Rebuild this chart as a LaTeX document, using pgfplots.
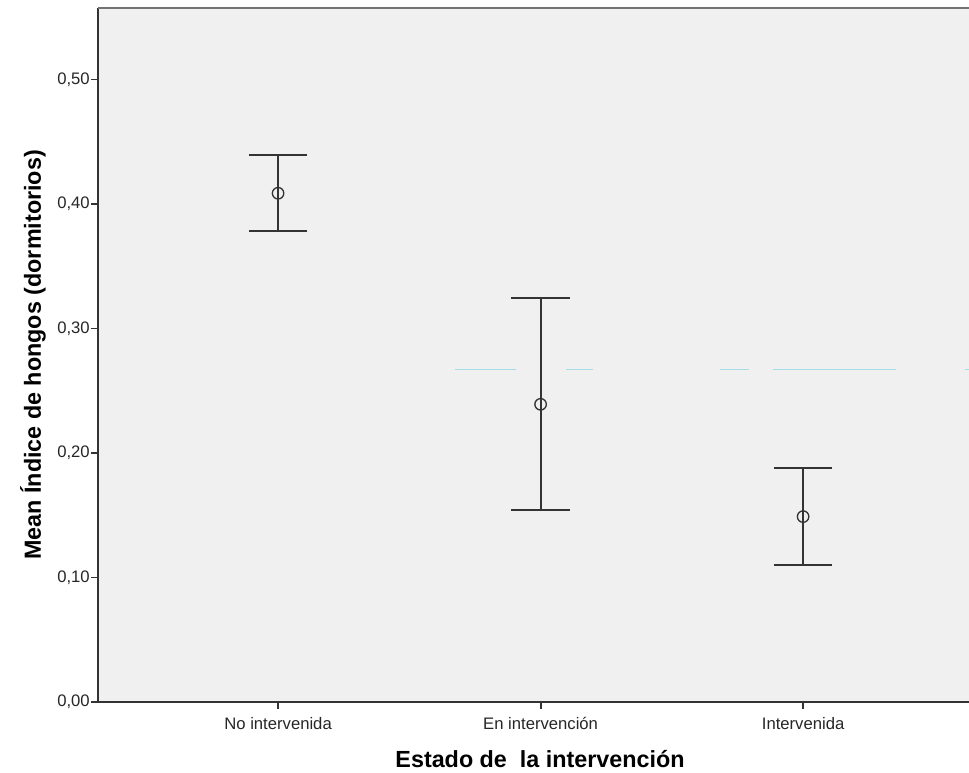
\documentclass[border=0pt]{standalone}
\usepackage{pgfplots}
\pgfplotsset{compat=1.18}
\usepackage{fontspec}
\setmainfont{Liberation Sans}
\definecolor{bg}{HTML}{F0F0F0}
\definecolor{ink}{HTML}{333333}
\definecolor{cy}{HTML}{A6DCE6}
\begin{document}
\begin{tikzpicture}
\begin{axis}[
  name=ax, at={(0,0)}, anchor=south west,
  scale only axis, width=653.25pt, height=520.5pt,
  xmin=-0.686, xmax=2.632, ymin=0, ymax=0.5574,
  axis x line*=bottom, axis y line*=left,
  axis line style={-, ink, line width=1.4pt},
  axis background/.style={fill=bg},
  xtick={0,1,2},
  xticklabels={No intervenida, En intervención, Intervenida},
  ytick={0,0.1,0.2,0.3,0.4,0.5},
  tick align=outside, major tick length=5.25pt,
  tick style={ink, line width=1.4pt},
  tick label style={font=\fontsize{12.5}{14}\selectfont, text=black!85},
  yticklabel style={/pgf/number format/fixed, /pgf/number format/fixed zerofill,
    /pgf/number format/precision=2, /pgf/number format/use comma,
    /pgf/number format/assume math mode=true, inner sep=0pt, xshift=-0.75pt},
  xticklabel style={anchor=base, yshift=-15pt},
  xlabel={Estado de\ \ la intervención},
  ylabel={Mean Índice de hongos (dormitorios)},
  every axis x label/.style={at={(axis description cs:0.5075,0)}, anchor=base, yshift=-48.75pt,
    font=\fontsize{17.5}{20}\selectfont\bfseries, text=black},
  every axis y label/.style={at={(axis description cs:-0.06544,0.5)}, rotate=90, anchor=base,
    font=\fontsize{17.5}{20}\selectfont\bfseries, text=black},
  clip=false,
]
\draw[color=black!55, line width=1.1pt] (rel axis cs:0,1) -- (rel axis cs:1,1);
\addplot[cy, line width=0.75pt, forget plot] coordinates {(0.674,0.2667) (0.907,0.2667)};
\addplot[cy, line width=0.75pt, forget plot] coordinates {(1.096,0.2667) (1.200,0.2667)};
\addplot[cy, line width=0.75pt, forget plot] coordinates {(1.684,0.2667) (1.794,0.2667)};
\addplot[cy, line width=0.75pt, forget plot] coordinates {(1.886,0.2667) (2.354,0.2667)};
\addplot[cy, line width=0.75pt, forget plot] coordinates {(2.616,0.2667) (2.632,0.2667)};
\addplot[only marks, mark=o, mark size=4.3pt, mark options={ink, line width=1pt},
  error bars/.cd, y dir=both, y explicit,
  error bar style={ink, line width=1.4pt},
  error mark=-, error mark options={rotate=90, ink, line width=1.4pt, mark size=22pt}]
coordinates {
  (0,0.4086) += (0,0.0308) -= (0,0.0305)
  (1,0.2391) += (0,0.0851) -= (0,0.0849)
  (2,0.1489) += (0,0.0393) -= (0,0.0389)
};
\end{axis}
\pgfresetboundingbox
\path[use as bounding box] (-73.5pt,-53.25pt) rectangle (653.25pt,526.5pt);
\end{tikzpicture}
\end{document}
